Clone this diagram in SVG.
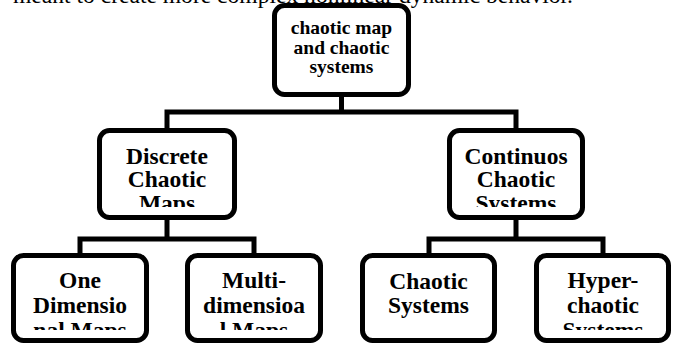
<svg xmlns="http://www.w3.org/2000/svg" width="676" height="345" viewBox="0 0 676 345">
  <style>
    .box { fill: #ffffff; stroke: #000000; stroke-width: 5; }
    .wire { fill: none; stroke: #000000; stroke-width: 5; stroke-linecap: butt; stroke-linejoin: miter; }
    .lbl { font-family: "Liberation Serif", "Times New Roman", serif; font-weight: bold; fill: #000000; text-anchor: middle; }
    .big { font-size: 23.5px; }
    .small { font-size: 19.5px; }
    .body { font-family: "Liberation Serif", "Times New Roman", serif; font-size: 23px; fill: #000000; }
  </style>
  <defs>
    <clipPath id="clip-discrete"><rect x="100" y="130" width="134" height="77"/></clipPath>
    <clipPath id="clip-continuous"><rect x="450" y="130" width="132" height="77"/></clipPath>
    <clipPath id="clip-one"><rect x="14" y="255" width="132" height="75"/></clipPath>
    <clipPath id="clip-multi"><rect x="188" y="255" width="132" height="75"/></clipPath>
    <clipPath id="clip-hyper"><rect x="537" y="255" width="131" height="75"/></clipPath>
  </defs>

  <rect width="676" height="345" fill="#ffffff"/>

  <!-- running text of the page, cut by the top edge -->
  <text class="body" x="13" y="3" textLength="560" lengthAdjust="spacingAndGlyphs">meant to create more complex nonlinear dynamic behavior.</text>

  <g id="connectors">
    <path class="wire" d="M341.5 97 V112 M164.5 112 H518.5 M167 112 V129 M516 112 V129"/>
    <path class="wire" d="M167 219 V239 M77.5 239 H256.5 M80 239 V254 M254 239 V254"/>
    <path class="wire" d="M516 219 V239 M426.5 239 H605.5 M429 239 V254 M603 239 V254"/>
  </g>

  <g id="root">
    <rect class="box" x="274.5" y="5.5" width="134" height="89" rx="10"/>
    <text class="lbl small" x="341.5" y="34">chaotic map</text>
    <text class="lbl small" x="341.5" y="53.5">and chaotic</text>
    <text class="lbl small" x="341.5" y="73">systems</text>
  </g>

  <g id="discrete">
    <rect class="box" x="99.5" y="130.5" width="135" height="87" rx="10"/>
    <g clip-path="url(#clip-discrete)">
      <text class="lbl big" x="167" y="163.5">Discrete</text>
      <text class="lbl big" x="167" y="187">Chaotic</text>
      <text class="lbl big" x="167" y="211">Maps</text>
    </g>
  </g>

  <g id="continuous">
    <rect class="box" x="449.5" y="130.5" width="133" height="87" rx="10"/>
    <g clip-path="url(#clip-continuous)">
      <text class="lbl big" x="516" y="163.5">Continuos</text>
      <text class="lbl big" x="516" y="187">Chaotic</text>
      <text class="lbl big" x="516" y="211">Systems</text>
    </g>
  </g>

  <g id="one-dimensional">
    <rect class="box" x="13.5" y="255.5" width="133" height="85" rx="10"/>
    <g clip-path="url(#clip-one)">
      <text class="lbl big" x="80" y="288">One</text>
      <text class="lbl big" x="80" y="313">Dimensio</text>
      <text class="lbl big" x="80" y="338">nal Maps</text>
    </g>
  </g>

  <g id="multi-dimensional">
    <rect class="box" x="187.5" y="255.5" width="133" height="85" rx="10"/>
    <g clip-path="url(#clip-multi)">
      <text class="lbl big" x="254" y="288">Multi-</text>
      <text class="lbl big" x="254" y="313">dimensioa</text>
      <text class="lbl big" x="254" y="338">l Maps</text>
    </g>
  </g>

  <g id="chaotic-systems">
    <rect class="box" x="362.5" y="255.5" width="132" height="85" rx="10"/>
    <text class="lbl big" x="428.5" y="289">Chaotic</text>
    <text class="lbl big" x="428.5" y="313">Systems</text>
  </g>

  <g id="hyperchaotic">
    <rect class="box" x="536.5" y="255.5" width="132" height="85" rx="10"/>
    <g clip-path="url(#clip-hyper)">
      <text class="lbl big" x="603" y="288">Hyper-</text>
      <text class="lbl big" x="603" y="313">chaotic</text>
      <text class="lbl big" x="603" y="338">Systems</text>
    </g>
  </g>
</svg>
